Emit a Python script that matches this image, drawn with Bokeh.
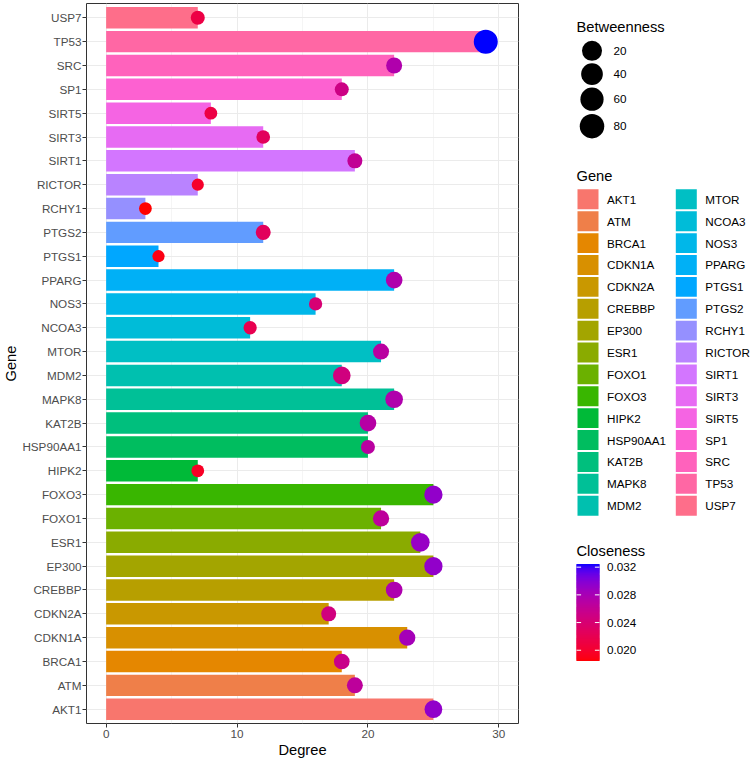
import math
import numpy as np
from bokeh.plotting import figure
from bokeh.models import Range1d, FactorRange, FixedTicker, ColumnDataSource
from bokeh.layouts import row
from bokeh.embed import file_html
from bokeh.resources import INLINE
from bokeh.core.properties import value

# ---------------- data ----------------
genes = ["AKT1", "ATM", "BRCA1", "CDKN1A", "CDKN2A", "CREBBP", "EP300", "ESR1",
         "FOXO1", "FOXO3", "HIPK2", "HSP90AA1", "KAT2B", "MAPK8", "MDM2", "MTOR",
         "NCOA3", "NOS3", "PPARG", "PTGS1", "PTGS2", "RCHY1", "RICTOR", "SIRT1",
         "SIRT3", "SIRT5", "SP1", "SRC", "TP53", "USP7"]
degree = [25, 19, 18, 23, 17, 22, 25, 24,
          21, 25, 7, 20, 20, 22, 18, 21,
          11, 16, 22, 4, 12, 3, 7, 19,
          12, 8, 18, 22, 29, 7]
betweenness = [18.9, 9.3, 7.9, 10.7, 5.3, 12.8, 23.1, 26.1,
               10.7, 23.1, 0.7, 2.5, 12.8, 18.9, 18.9, 9.3,
               1.2, 1.2, 12.8, 0.5, 5.3, 0.7, 0.5, 5.3,
               1.9, 0.7, 2.5, 9.3, 85.0, 2.5]
closeness = [0.0294, 0.0266, 0.0255, 0.0283, 0.0248, 0.0277, 0.0294, 0.0291,
             0.0266, 0.0294, 0.0196, 0.0269, 0.0271, 0.0276, 0.0248, 0.0269,
             0.0220, 0.0241, 0.0276, 0.0189, 0.0227, 0.01845, 0.0199, 0.0262,
             0.0227, 0.0213, 0.0252, 0.0276, 0.03245, 0.0213]
size_breaks = [20, 40, 60, 80]
closeness_breaks = [0.020, 0.024, 0.028, 0.032]
x_ticks = [0, 10, 20, 30]

FONT = "Liberation Sans"

# ---------------- colour helpers ----------------
def _gamma(c):
    c = 12.92 * c if c <= 0.0031308 else 1.055 * c ** (1 / 2.4) - 0.055
    return min(max(c, 0.0), 1.0)

def _lin(c):
    return c / 12.92 if c <= 0.04045 else ((c + 0.055) / 1.055) ** 2.4

def _xyz_to_hex(X, Y, Z):
    r = 3.2404542 * X - 1.5371385 * Y - 0.4985314 * Z
    g = -0.9692660 * X + 1.8760108 * Y + 0.0415560 * Z
    b = 0.0556434 * X - 0.2040259 * Y + 1.0572252 * Z
    return "#%02x%02x%02x" % tuple(int(round(_gamma(c) * 255)) for c in (r, g, b))

XN, YN, ZN = 0.95047, 1.0, 1.08883

def hcl_hex(h, c=100.0, l=65.0):
    hr = math.radians(h)
    u, v = c * math.cos(hr), c * math.sin(hr)
    un = 4 * XN / (XN + 15 * YN + 3 * ZN)
    vn = 9 * YN / (XN + 15 * YN + 3 * ZN)
    Y = YN * ((l + 16) / 116) ** 3
    up = u / (13 * l) + un
    vp = v / (13 * l) + vn
    X = Y * 9 * up / (4 * vp)
    Z = Y * (12 - 3 * up - 20 * vp) / (4 * vp)
    return _xyz_to_hex(X, Y, Z)

def _f(t):
    d = 6 / 29
    return t ** (1 / 3) if t > d ** 3 else t / (3 * d * d) + 4 / 29

def _finv(t):
    d = 6 / 29
    return t ** 3 if t > d else 3 * d * d * (t - 4 / 29)

def hex_to_lab(hx):
    r, g, b = (_lin(int(hx[i:i + 2], 16) / 255) for i in (1, 3, 5))
    X = 0.4124564 * r + 0.3575761 * g + 0.1804375 * b
    Y = 0.2126729 * r + 0.7151522 * g + 0.0721750 * b
    Z = 0.0193339 * r + 0.1191920 * g + 0.9503041 * b
    fx, fy, fz = _f(X / XN), _f(Y / YN), _f(Z / ZN)
    return (116 * fy - 16, 500 * (fx - fy), 200 * (fy - fz))

def lab_to_hex(L, a, b):
    fy = (L + 16) / 116
    fx = fy + a / 500
    fz = fy - b / 200
    return _xyz_to_hex(XN * _finv(fx), YN * _finv(fy), ZN * _finv(fz))

LOW, HIGH = hex_to_lab("#FF0000"), hex_to_lab("#0000FF")
cmin, cmax = min(closeness), max(closeness)

def close_color(v):
    t = (v - cmin) / (cmax - cmin)
    return lab_to_hex(*[lo + (hi - lo) * t for lo, hi in zip(LOW, HIGH)])

n = len(genes)
gene_colors = [hcl_hex(15 + 360 * i / n) for i in range(n)]
bmin, bmax = min(betweenness), max(betweenness)
point_sizes = [12.2 + 11.8 * math.sqrt((b - bmin) / (bmax - bmin)) for b in betweenness]
point_colors = [close_color(c) for c in closeness]

# ---------------- main panel ----------------
MW = 530
p = figure(width=MW, height=760,
           x_range=Range1d(-1.5, 31.5),
           y_range=FactorRange(factors=genes, range_padding=0.1, range_padding_units="absolute"),
           output_backend="svg", toolbar_location=None,
           min_border_top=3, min_border_right=12, min_border_left=0, min_border_bottom=0)
p.background_fill_color = "white"
p.border_fill_color = "white"

src = ColumnDataSource(dict(gene=genes, degree=degree, fill=gene_colors,
                            size=point_sizes, ccol=point_colors))
p.hbar(y="gene", left=0, right="degree", height=0.9, fill_color="fill",
       line_color=None, source=src)
p.scatter(x="degree", y="gene", size="size", fill_color="ccol", line_color=None,
          source=src)

minor = [(a + b) / 2 for a, b in zip(x_ticks[:-1], x_ticks[1:])]
p.xaxis.ticker = FixedTicker(ticks=x_ticks, minor_ticks=minor)
p.xaxis.axis_label = "Degree"
p.yaxis.axis_label = "Gene"
for ax in (p.xaxis, p.yaxis):
    ax.axis_line_color = None
    ax.major_tick_line_color = "#333333"
    ax.major_tick_out = 4
    ax.major_tick_in = 0
    ax.minor_tick_line_color = None
    ax.major_label_text_font = FONT
    ax.major_label_text_font_size = "11.7px"
    ax.major_label_text_color = "#4D4D4D"
    ax.axis_label_text_font = FONT
    ax.axis_label_text_font_size = "14.7px"
    ax.axis_label_text_font_style = "normal"
    ax.axis_label_text_color = "black"
p.yaxis.major_label_standoff = 1
p.yaxis.axis_label_standoff = 0
p.xaxis.major_label_standoff = 2
p.xaxis.axis_label_standoff = 1

p.xgrid.grid_line_color = "#EBEBEB"
p.xgrid.grid_line_width = 1
p.xgrid.minor_grid_line_color = "#EBEBEB"
p.xgrid.minor_grid_line_width = 0.5
p.ygrid.grid_line_color = "#EBEBEB"
p.ygrid.grid_line_width = 1
p.outline_line_color = "#333333"
p.outline_line_width = 1

# ---------------- legend panel ----------------
LW, LH = 753 - MW, 760
q = figure(width=LW, height=LH, x_range=Range1d(MW, MW + LW), y_range=Range1d(LH, 0),
           output_backend="svg", toolbar_location=None,
           x_axis_location=None, y_axis_location=None, min_border=0)
q.outline_line_color = None
q.grid.visible = False
q.background_fill_color = "white"
q.border_fill_color = "white"

def txt(x, y, t, size="11.7px", color="black"):
    q.text(x=x, y=y, text=t, text_font=value(FONT), text_font_size=size,
           text_color=color, text_baseline="middle", text_align="left")

# Betweenness legend
txt([576], [25], ["Betweenness"], size="14.7px")
sb_y = [50, 74.5, 101, 129.5]
sb_d = [20, 21.7, 23.2, 24.5]
q.scatter(x=[591.5] * 4, y=sb_y, size=sb_d, fill_color="black", line_color=None)
txt([613] * 4, sb_y, [str(s) for s in size_breaks])

# Gene legend
txt([576], [182], ["Gene"], size="14.7px")
half = (n + 1) // 2
gx, gy, lx = [], [], []
for i in range(n):
    col, r = divmod(i, half)
    gx.append(577 + 10.5 + col * 98.3)
    gy.append(206.7 + r * 23.1)
    lx.append(606.5 + col * 98.3)
q.rect(x=gx, y=gy, width=21, height=21, fill_color=gene_colors, line_color=None)
txt(lx, gy, genes)

# Closeness colourbar
txt([576], [578], ["Closeness"], size="14.7px")
bar_top, bar_bot, bx0, bx1 = 591.7, 694.0, 576, 599
steps = 100
vals = np.linspace(cmin, cmax, steps + 1)
def yv(v):
    return bar_bot - (v - cmin) / (cmax - cmin) * (bar_bot - bar_top)
q.quad(left=bx0, right=bx1,
       bottom=[min(yv(v) + 0.6, bar_bot) for v in vals[:-1]],
       top=[max(yv(v) - 0.6, bar_top) for v in vals[1:]],
       fill_color=[close_color((a + b) / 2) for a, b in zip(vals[:-1], vals[1:])],
       line_color=None)
ty = [yv(v) for v in closeness_breaks]
q.segment(x0=[bx0] * 4, x1=[bx0 + 4.6] * 4, y0=ty, y1=ty, line_color="white", line_width=1)
q.segment(x0=[bx1 - 4.6] * 4, x1=[bx1] * 4, y0=ty, y1=ty, line_color="white", line_width=1)
txt([606.5] * 4, ty, ["%.3f" % v for v in closeness_breaks])

layout = row(p, q)
open("out.html", "w").write(file_html(layout, INLINE))
